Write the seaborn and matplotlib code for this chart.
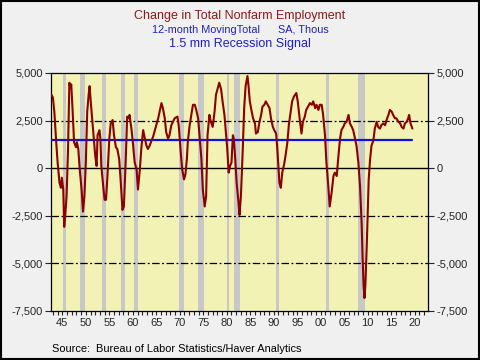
import matplotlib
matplotlib.use("Agg")
import matplotlib.pyplot as plt
import seaborn as sns
import pandas as pd
from matplotlib.patches import Rectangle
from matplotlib.ticker import FuncFormatter, MultipleLocator

# ---- data ----
years = [1942.7, 1943.0, 1943.3, 1943.7, 1944.0, 1944.4, 1944.7, 1944.9, 1945.2, 1945.4,
         1945.6, 1945.9, 1946.2, 1946.5, 1946.7, 1946.9, 1947.2, 1947.5, 1947.9, 1948.1,
         1948.4, 1948.7, 1949.1, 1949.4, 1949.7, 1950.0, 1950.3, 1950.6, 1950.8, 1951.1,
         1951.4, 1951.7, 1952.0, 1952.3, 1952.5, 1952.9, 1953.1, 1953.3, 1953.7, 1954.0,
         1954.3, 1954.6, 1955.0, 1955.3, 1955.7, 1956.0, 1956.4, 1956.7, 1957.1, 1957.4,
         1957.8, 1958.1, 1958.5, 1958.8, 1959.1, 1959.3, 1959.7, 1960.0, 1960.4, 1960.8,
         1961.1, 1961.5, 1961.8, 1962.2, 1962.5, 1962.9, 1963.2, 1963.6, 1964.0, 1964.3,
         1964.7, 1965.0, 1965.4, 1965.7, 1966.1, 1966.4, 1966.8, 1967.1, 1967.5, 1967.8,
         1968.2, 1968.9, 1969.5, 1969.8, 1970.2, 1970.5, 1970.9, 1971.2, 1971.5, 1971.7,
         1972.1, 1972.5, 1972.8, 1973.2, 1973.5, 1973.9, 1974.2, 1974.6, 1974.9, 1975.3,
         1975.6, 1975.9, 1976.3, 1976.6, 1977.0, 1977.4, 1977.7, 1978.1, 1978.4, 1978.8,
         1979.1, 1979.5, 1979.8, 1980.1, 1980.4, 1980.7, 1981.0, 1981.3, 1981.5, 1981.8,
         1982.1, 1982.5, 1982.7, 1983.0, 1983.4, 1983.7, 1984.0, 1984.4, 1984.6, 1984.9,
         1985.3, 1985.6, 1986.0, 1986.2, 1986.6, 1986.9, 1987.3, 1987.6, 1988.0, 1988.3,
         1988.7, 1989.1, 1989.4, 1989.8, 1990.1, 1990.5, 1990.8, 1991.2, 1991.5, 1991.8,
         1992.2, 1992.5, 1992.9, 1993.2, 1993.6, 1993.9, 1994.3, 1994.8, 1995.1, 1995.5,
         1995.9, 1996.2, 1996.6, 1996.9, 1997.3, 1997.7, 1998.1, 1998.4, 1998.8, 1999.1,
         1999.5, 1999.8, 2000.2, 2000.5, 2000.9, 2001.2, 2001.6, 2001.9, 2002.3, 2002.7,
         2003.0, 2003.4, 2003.7, 2004.1, 2004.4, 2004.8, 2005.1, 2005.5, 2005.9, 2006.2,
         2006.6, 2006.9, 2007.3, 2007.6, 2008.0, 2008.35, 2008.7, 2008.9, 2009.1, 2009.3,
         2009.5, 2009.8, 2010.0, 2010.2, 2010.5, 2010.8, 2011.2, 2011.5, 2011.9, 2012.2,
         2012.6, 2012.9, 2013.3, 2013.7, 2014.0, 2014.4, 2014.7, 2015.1, 2015.4, 2015.8,
         2016.1, 2016.5, 2016.9, 2017.2, 2017.6, 2017.9, 2018.3, 2018.6, 2018.8, 2019.1,
         2019.5]
change = [3860, 3700, 2970, 1370, 300, -770, -1030, -500, -1120, -3080,
          -2550, -1480, 840, 4490, 4220, 4400, 2970, 1370, 1100, 1370,
          1010, -50, -1120, -2280, -1480, 300, 2970, 3860, 4310, 3330,
          2440, 1550, 660, 120, 1730, 2000, 1550, 120, -940, -1660,
          -1660, -410, 1550, 2350, 2530, 1730, 1100, 1010, 480, -590,
          -2190, -2010, 480, 2710, 2620, 2800, 2080, 1370, 300, -50,
          -1120, -50, 1010, 2000, 1640, 1190, 1010, 1190, 1460, 1640,
          2000, 2260, 2620, 2970, 3420, 3150, 2620, 1900, 1550, 1730,
          2260, 2620, 2710, 2170, 840, -50, -590, -320, 480, 1370,
          2260, 2880, 3330, 3330, 3060, 2620, 1730, 480, -1120, -2010,
          -1480, 1730, 2800, 2440, 2170, 2970, 3860, 4220, 4490, 4130,
          3510, 2800, 1900, 1010, -230, 120, 300, 1730, 1550, 480,
          -770, -1830, -2460, -1480, 1010, 3150, 4310, 4840, 4400, 3510,
          2970, 2620, 2350, 1820, 1900, 2350, 2800, 3240, 3330, 3510,
          3330, 3150, 2620, 2170, 2000, 1820, 840, -770, -1030, -230,
          200, 660, 1370, 2260, 2970, 3510, 3770, 3950, 3510, 2620,
          1820, 2440, 2710, 3060, 3240, 3420, 3330, 3510, 3150, 3330,
          3060, 3330, 3330, 2800, 1730, 300, -940, -2010, -1300, -410,
          -230, -410, 480, 1550, 2000, 2170, 2350, 2440, 2800, 2350,
          2170, 2000, 1550, 1190, 300, -940, -2900, -4680, -6100, -6820,
          -6100, -3960, -2190, -590, 480, 1190, 1460, 2080, 2440, 2170,
          2080, 2260, 2350, 2260, 2530, 2800, 3060, 2970, 2800, 2620,
          2620, 2440, 2350, 2170, 2080, 2350, 2440, 2620, 2800, 2350,
          2080]
signal_level = 1500
rec_start = [1945.08, 1948.83, 1953.50, 1957.58, 1960.25, 1969.92, 1973.83, 1980.00, 1981.50, 1990.50, 2001.17, 2007.92]
rec_end   = [1945.75, 1949.75, 1954.33, 1958.25, 1961.08, 1970.83, 1975.17, 1980.50, 1982.83, 1991.17, 2001.83, 2009.42]
ref_levels = [2500, -2500, -5000]
tick_years = list(range(1945, 2021, 5))

df = pd.DataFrame({"year": years, "change": change})

sns.set_style("ticks")
plt.rcParams['font.family'] = ['Liberation Sans', 'DejaVu Sans']

fig = plt.figure(figsize=(4.8, 3.6), dpi=100)
fig.patch.set_facecolor("#f0f0f0")
fig.patches.append(Rectangle((0.002, 0.003), 0.996, 0.994, transform=fig.transFigure,
                             fill=False, edgecolor="black", linewidth=1.5))
ax = fig.add_axes([51/480, 1 - 311/360, (428 - 51)/480, (311 - 73)/360])
ax.set_facecolor("#f2f2b4")

for s, e in zip(rec_start, rec_end):
    ax.axvspan(s, e, color="#c8c8c8", lw=0, zorder=1)

for lv in ref_levels:
    ax.axhline(lv, color="black", lw=0.9, ls=(0, (6, 2, 1.5, 2)), zorder=2)
ax.axhline(0, color="black", lw=1.0, zorder=2)

ax.plot([years[0], years[-1]], [signal_level, signal_level], color="#1010e0", lw=1.6, zorder=3)
sns.lineplot(data=df, x="year", y="change", color="#8b0000", lw=1.5, ax=ax, zorder=4)

ax.set_xlim(1942.59, 2022.82)
ax.set_ylim(-7500, 5000)
ax.set_yticks([5000, 2500, 0, -2500, -5000, -7500])
ax.yaxis.set_major_formatter(FuncFormatter(lambda v, p: f"{int(v):,}"))
ax.set_xticks(tick_years)
ax.set_xticklabels([f"{y % 100:02d}" for y in tick_years])
ax.xaxis.set_minor_locator(MultipleLocator(1))
ax.tick_params(axis="x", which="both", length=3, width=0.8, labelsize=8, pad=2, top=False)
ax.tick_params(axis="y", length=4, width=0.8, labelsize=8, pad=2, right=True, labelright=True)
ax.set_xlabel("")
ax.set_ylabel("")
for sp in ax.spines.values():
    sp.set_visible(True)
    sp.set_color("black")
    sp.set_linewidth(0.9)

fig.text(0.5, 1 - 16/360, "Change in Total Nonfarm Employment", ha="center", va="center",
         color="#8b1a1a", fontsize=9)
fig.text(0.5, 1 - 30/360, "12-month MovingTotal      SA, Thous", ha="center", va="center",
         color="#2020c0", fontsize=7.8)
fig.text(0.5, 1 - 44/360, "1.5 mm Recession Signal", ha="center", va="center",
         color="#2020c0", fontsize=9)
fig.text(52/480, 1 - 349/360, "Source:  Bureau of Labor Statistics/Haver Analytics", ha="left",
         va="center", color="black", fontsize=7.9)

fig.savefig("out.png", dpi=100, facecolor=fig.get_facecolor())
